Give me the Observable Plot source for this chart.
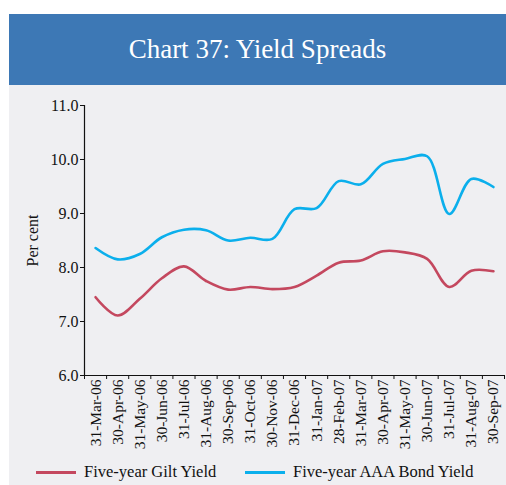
<!DOCTYPE html>
<html><head><meta charset="utf-8">
<script src="https://cdn.jsdelivr.net/npm/d3@7"></script>
<script src="https://cdn.jsdelivr.net/npm/@observablehq/plot@0.6"></script>
<style>
body{margin:0;background:#fff;font-family:"Liberation Serif","DejaVu Serif",serif;}
#wrap{position:absolute;left:9px;top:14px;width:497px;}
#title{height:71px;background:#3d78b5;color:#fff;font-size:27px;text-align:center;line-height:71px;}
#panel{background:#efeff2;height:400px;position:relative;}
#legend{position:absolute;top:377px;left:0;width:497px;font-size:16.5px;color:#111;}
.item{position:absolute;top:0;display:flex;align-items:center;}
.sw{display:inline-block;width:40px;height:3px;margin-right:8px;}
</style></head><body>
<div id="wrap"><div id="title">Chart 37: Yield Spreads</div><div id="panel"><div id="chart"></div>
<div id="legend"><div class="item" style="left:27px"><span class="sw" style="background:#c4485f"></span>Five-year Gilt Yield</div>
<div class="item" style="left:236px"><span class="sw" style="background:#0bafec"></span>Five-year AAA Bond Yield</div></div></div></div>
<script>
const dates = ["31-Mar-06","30-Apr-06","31-May-06","30-Jun-06","31-Jul-06","31-Aug-06","30-Sep-06","31-Oct-06","30-Nov-06","31-Dec-06","31-Jan-07","28-Feb-07","31-Mar-07","30-Apr-07","31-May-07","30-Jun-07","31-Jul-07","31-Aug-07","30-Sep-07"];
const gilt = [7.45,7.11,7.42,7.80,8.02,7.75,7.59,7.64,7.60,7.64,7.85,8.09,8.13,8.30,8.28,8.16,7.64,7.94,7.93];
const aaa = [8.36,8.15,8.25,8.56,8.70,8.69,8.50,8.55,8.53,9.08,9.10,9.60,9.54,9.92,10.01,10.06,8.99,9.64,9.49];
const yTicks = [6,7,8,9,10,11];
const yLabel = "Per cent";

const data = [];
dates.forEach((d,i)=>{data.push({i,v:gilt[i],s:"Five-year Gilt Yield"});});
dates.forEach((d,i)=>{data.push({i,v:aaa[i],s:"Five-year AAA Bond Yield"});});

const chart = Plot.plot({
  width:497, height:365,
  marginLeft:75, marginRight:2, marginTop:20, marginBottom:75,
  style:{background:"transparent",fontFamily:"Liberation Serif, DejaVu Serif, serif",fontSize:"16px",color:"#111"},
  x:{domain:[-0.5, dates.length-0.5]},
  y:{domain:[6,11]},
  color:{domain:["Five-year Gilt Yield","Five-year AAA Bond Yield"],range:["#c4485f","#0bafec"]},
  marks:[
    Plot.axisY({ticks:yTicks,tickFormat:d=>d.toFixed(1),tickSize:4,tickPadding:2,label:null,fontSize:16}),
    Plot.text([yLabel],{frameAnchor:"left",dx:-52,rotate:-90,textAnchor:"middle",fontSize:16,fill:"#111"}),
    Plot.axisX({ticks:d3.range(-0.5,dates.length,1),tickSize:4,tickFormat:()=>"",label:null}),
    Plot.axisX({ticks:d3.range(0,dates.length),tickSize:0,tickPadding:4,tickRotate:-90,tickFormat:i=>dates[i],label:null,fontSize:15.5}),
    Plot.ruleY([6],{stroke:"#111",strokeWidth:1.2}),
    Plot.ruleX([-0.5],{stroke:"#111",strokeWidth:1.2}),
    Plot.line(data,{x:"i",y:"v",z:"s",stroke:"s",strokeWidth:2.6,curve:"catmull-rom"})
  ]
});
document.getElementById("chart").appendChild(chart);
</script></body></html>
